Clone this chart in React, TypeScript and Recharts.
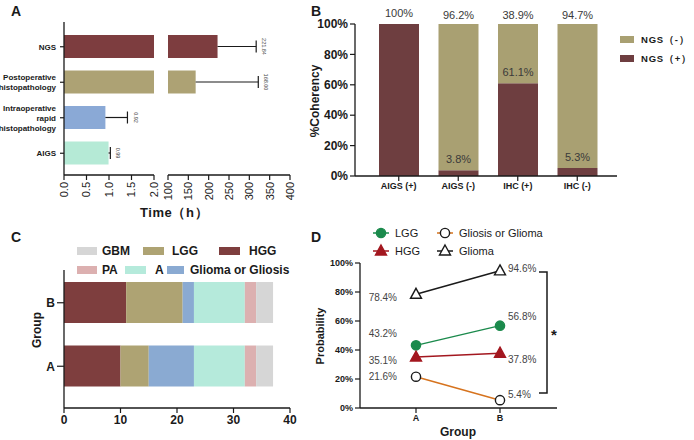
import {
  BarChart,
  Bar,
  LineChart,
  Line,
  XAxis,
  YAxis,
  Cell,
  LabelList,
  Legend,
} from 'recharts';

const FONT = '"Liberation Sans", Arial, Helvetica, sans-serif';
const INK = '#1a1a1a';

// ---- Panel A: turnaround time ----
const methods = ['NGS', 'Postoperative\nhistopathology', 'Intraoperative\nrapid\nhistopathology', 'AIGS'];
const timeMean = [221.84, 168.0, 0.92, 0.99];
const timeSd = [95, 154, 0.49, 0.04];
const methodColors = ['#7d3d3f', '#ada274', '#8aa9d6', '#b5ead6'];
const lowTicks = [0, 0.5, 1, 1.5, 2];
const highTicks = [100, 150, 200, 250, 300, 350, 400];
const LOW_MAX = 2;

// ---- Panel B: coherency ----
const cohCategories = ['AIGS (+)', 'AIGS (-)', 'IHC (+)', 'IHC (-)'];
const ngsPos = [100, 3.8, 61.1, 5.3];
const ngsNeg = [0, 96.2, 38.9, 94.7];
const pctTicks = [0, 20, 40, 60, 80, 100];

// ---- Panel C: group composition ----
const groupNames = ['B', 'A'];
const hggCount = [11, 10];
const lggCount = [10, 5];
const gliomaOrGliosisCount = [2, 8];
const aCount = [9, 9];
const paCount = [2, 2];
const gbmCount = [3, 3];
const countTicks = [0, 10, 20, 30, 40];

// ---- Panel D: probability ----
const probGroups = ['A', 'B'];
const probLGG = [43.2, 56.8];
const probHGG = [35.1, 37.8];
const probGliosis = [21.6, 5.4];
const probGlioma = [78.4, 94.6];

const timeLow = methods.map((name, i) => {
  const small = timeMean[i] < LOW_MAX;
  return {
    name,
    mean: timeMean[i],
    sd: small ? timeSd[i] : null,
    label: small ? timeMean[i].toFixed(2) : null,
  };
});
const timeHigh = methods.map((name, i) => {
  const big = timeMean[i] >= LOW_MAX;
  return {
    name,
    mean: big ? timeMean[i] : null,
    sd: big ? timeSd[i] : null,
    label: big ? timeMean[i].toFixed(2) : null,
  };
});

const cohData = cohCategories.map((name, i) => ({
  name,
  pos: ngsPos[i],
  neg: ngsNeg[i],
  posLabel: ngsPos[i] > 0 ? ngsPos[i] : null,
  negLabel: ngsNeg[i] > 0 ? ngsNeg[i] : null,
}));

const stackSeries = [
  { key: 'HGG', values: hggCount, color: '#7e3e3e' },
  { key: 'LGG', values: lggCount, color: '#aea373' },
  { key: 'Glioma or Gliosis', values: gliomaOrGliosisCount, color: '#8aaad2' },
  { key: 'A', values: aCount, color: '#b5eadb' },
  { key: 'PA', values: paCount, color: '#dcb0b0' },
  { key: 'GBM', values: gbmCount, color: '#d6d6d6' },
];
const groupData = groupNames.map((group, i) => {
  const row: Record<string, string | number> = { group };
  stackSeries.forEach((s) => (row[s.key] = s.values[i]));
  return row;
});

const probData = probGroups.map((group, i) => ({
  group,
  LGG: probLGG[i],
  HGG: probHGG[i],
  gliosis: probGliosis[i],
  glioma: probGlioma[i],
}));

// label offsets (dy) for panel D, per point
const probSeries = [
  { key: 'glioma', name: 'Glioma', color: INK, marker: 'tri', filled: false, dy: [3, -2] },
  { key: 'LGG', name: 'LGG', color: '#1b8a4c', marker: 'circle', filled: true, dy: [-12, -9] },
  { key: 'HGG', name: 'HGG', color: '#a3171f', marker: 'tri', filled: true, dy: [3, 6] },
  { key: 'gliosis', name: 'Gliosis or Glioma', color: '#d6731e', marker: 'circle', filled: false, dy: [0, -6] },
];

const vbOf = (p: any) => (p.viewBox && p.viewBox.x != null ? p.viewBox : p);

// ---------- ticks ----------
function MethodTick(props: any) {
  const { x, y, payload } = props;
  const lines = String(payload.value).split('\n');
  const lh = 10;
  const y0 = y - ((lines.length - 1) * lh) / 2;
  return (
    <text textAnchor="end" fontSize={8} fontWeight="bold" fill={INK}>
      {lines.map((l, i) => (
        <tspan key={i} x={x - 2} y={y0 + i * lh} dy="0.35em">
          {l}
        </tspan>
      ))}
    </text>
  );
}

function RotTick(props: any) {
  const { x, y, payload, digits } = props;
  const v = digits ? Number(payload.value).toFixed(digits) : String(payload.value);
  return (
    <text
      transform={`translate(${x},${y}) rotate(-90)`}
      textAnchor="end"
      dy="0.35em"
      fontSize={11}
      fill={INK}
    >
      {v}
    </text>
  );
}

// ---------- panel A error whisker drawn from the stacked sd segment ----------
function Whisker(props: any) {
  const { x, y, width, height, payload } = props;
  if (!payload || payload.sd == null || !isFinite(x) || !isFinite(width)) return null;
  const cy = y + height / 2;
  const x2 = x + width;
  return (
    <g>
      <line x1={x} y1={cy} x2={x2} y2={cy} stroke={INK} strokeWidth={1.2} />
      <line x1={x2} y1={cy - 6} x2={x2} y2={cy + 6} stroke={INK} strokeWidth={1.2} />
    </g>
  );
}

function ErrLabel(props: any) {
  const { value } = props;
  if (value == null) return null;
  const vb = vbOf(props);
  const lx = vb.x + vb.width + 8;
  const ly = vb.y + vb.height / 2;
  return (
    <text
      transform={`translate(${lx},${ly}) rotate(90)`}
      textAnchor="middle"
      dy="0.35em"
      fontSize={5.5}
      fill="#444"
    >
      {value}
    </text>
  );
}

// ---------- panel B value labels ----------
const pctLabel = (gap: number) => (props: any) => {
  const { value } = props;
  if (value == null) return null;
  const vb = vbOf(props);
  return (
    <text x={vb.x + vb.width / 2} y={vb.y - gap} textAnchor="middle" fontSize={11} fill="#3a3a3a">
      {`${value}%`}
    </text>
  );
};

// ---------- panel D ----------
function markerEl(kind: string, cx: number, cy: number, color: string, filled: boolean, key?: string) {
  const fill = filled ? color : '#fff';
  const stroke = filled ? color : INK;
  if (kind === 'tri') {
    return (
      <path
        key={key}
        d={`M${cx},${cy - 6} L${cx + 5.5},${cy + 4} L${cx - 5.5},${cy + 4} Z`}
        fill={fill}
        stroke={stroke}
        strokeWidth={1.4}
      />
    );
  }
  return <circle key={key} cx={cx} cy={cy} r={4.6} fill={fill} stroke={stroke} strokeWidth={1.4} />;
}

const probLabel = (dy: number[]) => (props: any) => {
  const { value, index } = props;
  const vb = vbOf(props);
  const left = index === 0;
  return (
    <text
      x={left ? vb.x - 19 : vb.x + 8}
      y={vb.y + dy[index]}
      dy="0.35em"
      textAnchor={left ? 'end' : 'start'}
      fontSize={10}
      fill="#444"
    >
      {`${value}%`}
    </text>
  );
};

// ---------- legends ----------
function CohLegend() {
  const items = [
    { name: 'NGS（-）', color: '#a9a072' },
    { name: 'NGS（+）', color: '#6e3e40' },
  ];
  return (
    <svg width={74} height={40}>
      {items.map((it, i) => (
        <g key={it.name} transform={`translate(0,${i * 19})`}>
          <rect x={0} y={3} width={14} height={7} fill={it.color} />
          <text x={21} y={6.5} dy="0.35em" fontSize={9.5} fontWeight="bold" letterSpacing={0.8} fill={INK}>
            {it.name}
          </text>
        </g>
      ))}
    </svg>
  );
}

const groupLegendPos: Record<string, [number, number, number, number]> = {
  GBM: [77, 26, 20, 102],
  LGG: [143, 26, 21, 172],
  HGG: [219, 26, 21, 249],
  PA: [77, 45, 20, 102],
  A: [125, 45, 21, 155],
  'Glioma or Gliosis': [167, 45, 17, 190],
};

function GroupLegend() {
  return (
    <svg width={310} height={60}>
      {stackSeries.map((s) => {
        const [sx, cy, sw, tx] = groupLegendPos[s.key];
        return (
          <g key={s.key}>
            <rect x={sx} y={cy - 4} width={sw} height={8} fill={s.color} />
            <text x={tx} y={cy} dy="0.35em" fontSize={12} fontWeight="bold" fill={INK}>
              {s.key}
            </text>
          </g>
        );
      })}
    </svg>
  );
}

const probLegendPos: Record<string, [number, number]> = {
  LGG: [73, 8],
  'Gliosis or Glioma': [137, 8],
  HGG: [73, 26],
  Glioma: [137, 26],
};

function ProbLegend() {
  return (
    <svg width={394} height={40}>
      {probSeries.map((s) => {
        const [lx, cy] = probLegendPos[s.name];
        return (
          <g key={s.key}>
            <line x1={lx} y1={cy} x2={lx + 16} y2={cy} stroke={s.color} strokeWidth={1.5} />
            {markerEl(s.marker, lx + 8, cy, s.color, s.filled)}
            <text x={lx + 22} y={cy} dy="0.35em" fontSize={11} fill={INK}>
              {s.name}
            </text>
          </g>
        );
      })}
    </svg>
  );
}

const axisLine = { stroke: INK, strokeWidth: 1.3 };
const tickLine = { stroke: INK, strokeWidth: 1.2 };

export default function App() {
  return (
    <div
      style={{
        position: 'absolute',
        left: 0,
        top: 0,
        width: 694,
        height: 440,
        background: '#fff',
        fontFamily: FONT,
        overflow: 'hidden',
      }}
    >
      {/* Panel A - low segment */}
      <div style={{ position: 'absolute', left: 0, top: 0 }}>
        <BarChart
          layout="vertical"
          width={160}
          height={225}
          data={timeLow}
          margin={{ top: 22, right: 6, bottom: 0, left: 0 }}
          barSize={23}
        >
          <XAxis
            type="number"
            domain={[0, LOW_MAX]}
            ticks={lowTicks}
            allowDataOverflow
            height={50}
            tickSize={5}
            axisLine={axisLine}
            tickLine={tickLine}
            tick={<RotTick digits={1} />}
            interval={0}
          />
          <YAxis
            type="category"
            dataKey="name"
            width={64}
            tickSize={4}
            padding={{ top: 7, bottom: 4 }}
            axisLine={axisLine}
            tickLine={tickLine}
            tick={<MethodTick />}
            interval={0}
          />
          <Bar dataKey="mean" stackId="t" isAnimationActive={false}>
            {timeLow.map((d, i) => (
              <Cell key={d.name} fill={methodColors[i]} />
            ))}
          </Bar>
          <Bar dataKey="sd" stackId="t" isAnimationActive={false} shape={<Whisker />}>
            <LabelList dataKey="label" content={ErrLabel} />
          </Bar>
        </BarChart>
      </div>

      {/* Panel A - high segment */}
      <div style={{ position: 'absolute', left: 160, top: 0 }}>
        <BarChart
          layout="vertical"
          width={140}
          height={225}
          data={timeHigh}
          margin={{ top: 22, right: 10, bottom: 0, left: 8 }}
          barSize={23}
        >
          <XAxis
            type="number"
            domain={[100, 400]}
            ticks={highTicks}
            allowDataOverflow
            height={50}
            tickSize={5}
            axisLine={axisLine}
            tickLine={tickLine}
            tick={<RotTick />}
            interval={0}
          />
          <YAxis type="category" dataKey="name" hide padding={{ top: 7, bottom: 4 }} />
          <Bar dataKey="mean" stackId="t" isAnimationActive={false}>
            {timeHigh.map((d, i) => (
              <Cell key={d.name} fill={methodColors[i]} />
            ))}
          </Bar>
          <Bar dataKey="sd" stackId="t" isAnimationActive={false} shape={<Whisker />}>
            <LabelList dataKey="label" content={ErrLabel} />
          </Bar>
        </BarChart>
      </div>

      {/* Panel B */}
      <div style={{ position: 'absolute', left: 300, top: 0 }}>
        <BarChart
          width={394}
          height={225}
          data={cohData}
          margin={{ top: 24, right: 77, bottom: 0, left: 0 }}
          barSize={40}
        >
          <XAxis
            dataKey="name"
            padding={{ left: 14, right: 10 }}
            height={49}
            tickSize={5}
            axisLine={axisLine}
            tickLine={tickLine}
            tick={{ fontSize: 9, fontWeight: 'bold', fill: INK }}
            interval={0}
          />
          <YAxis
            domain={[0, 100]}
            ticks={pctTicks}
            width={55}
            tickSize={5}
            axisLine={axisLine}
            tickLine={tickLine}
            tickFormatter={(v) => `${v}%`}
            tick={{ fontSize: 12, fontWeight: 'bold', fill: INK }}
          />
          <Legend
            layout="horizontal"
            verticalAlign="middle"
            align="center"
            wrapperStyle={{ left: 320, top: 33, width: 74, height: 40 }}
            content={() => <CohLegend />}
          />
          <Bar dataKey="pos" name="NGS（+）" stackId="c" fill="#6e3e40" isAnimationActive={false}>
            <LabelList dataKey="posLabel" content={pctLabel(7)} />
          </Bar>
          <Bar dataKey="neg" name="NGS（-）" stackId="c" fill="#a9a072" isAnimationActive={false}>
            <LabelList dataKey="negLabel" content={pctLabel(5)} />
          </Bar>
        </BarChart>
      </div>

      {/* Panel C */}
      <div style={{ position: 'absolute', left: 0, top: 225 }}>
        <BarChart
          layout="vertical"
          width={310}
          height={215}
          data={groupData}
          margin={{ top: 45, right: 20, bottom: 0, left: 0 }}
          barSize={41}
        >
          <XAxis
            type="number"
            domain={[0, 40]}
            ticks={countTicks}
            height={32}
            tickSize={5}
            axisLine={axisLine}
            tickLine={tickLine}
            tick={{ fontSize: 12, fontWeight: 'bold', fill: INK }}
          />
          <YAxis
            type="category"
            dataKey="group"
            width={64}
            tickSize={7}
            padding={{ top: 1, bottom: 10 }}
            axisLine={axisLine}
            tickLine={tickLine}
            tick={{ fontSize: 12, fontWeight: 'bold', fill: INK }}
          />
          <Legend
            layout="horizontal"
            verticalAlign="middle"
            align="center"
            wrapperStyle={{ left: 0, top: 0, width: 310, height: 60 }}
            content={() => <GroupLegend />}
          />
          {stackSeries.map((s) => (
            <Bar key={s.key} dataKey={s.key} stackId="g" fill={s.color} isAnimationActive={false} />
          ))}
        </BarChart>
      </div>

      {/* Panel D */}
      <div style={{ position: 'absolute', left: 300, top: 225 }}>
        <LineChart
          width={394}
          height={215}
          data={probData}
          margin={{ top: 38, right: 137, bottom: 0, left: 0 }}
        >
          <XAxis
            dataKey="group"
            padding={{ left: 56, right: 57 }}
            height={32}
            tickSize={5}
            axisLine={axisLine}
            tickLine={tickLine}
            tick={{ fontSize: 9, fontWeight: 'bold', fill: INK }}
          />
          <YAxis
            domain={[0, 100]}
            ticks={pctTicks}
            width={60}
            tickSize={5}
            axisLine={axisLine}
            tickLine={tickLine}
            tickFormatter={(v) => `${v}%`}
            tick={{ fontSize: 9, fontWeight: 'bold', fill: INK }}
          />
          <Legend
            layout="horizontal"
            verticalAlign="middle"
            align="center"
            wrapperStyle={{ left: 0, top: 0, width: 394, height: 40 }}
            content={() => <ProbLegend />}
          />
          {probSeries.map((s) => (
            <Line
              key={s.key}
              dataKey={s.key}
              name={s.name}
              stroke={s.color}
              strokeWidth={1.5}
              isAnimationActive={false}
              dot={(p: any) => markerEl(s.marker, p.cx, p.cy, s.color, s.filled, `${s.key}-${p.index}`)}
              activeDot={false}
            >
              <LabelList dataKey={s.key} content={probLabel(s.dy)} />
            </Line>
          ))}
        </LineChart>
      </div>

      {/* panel letters, axis titles, significance bracket */}
      <svg width={694} height={440} style={{ position: 'absolute', left: 0, top: 0, pointerEvents: 'none' }}>
        <g fontWeight="bold" fontSize={14} fill={INK}>
          <text x={11} y={16}>A</text>
          <text x={311} y={16}>B</text>
          <text x={11} y={242}>C</text>
          <text x={311} y={242}>D</text>
        </g>
        <text x={174} y={212} dy="0.35em" textAnchor="middle" fontSize={13} fontWeight="bold" letterSpacing={0.6} fill={INK}>
          Time（h）
        </text>
        <text transform="translate(315,101) rotate(-90)" dy="0.35em" textAnchor="middle" fontSize={12} fontWeight="bold" fill={INK}>
          %Coherency
        </text>
        <text transform="translate(37,330) rotate(-90)" dy="0.35em" textAnchor="middle" fontSize={12} fontWeight="bold" fill={INK}>
          Group
        </text>
        <text transform="translate(320,336) rotate(-90)" dy="0.35em" textAnchor="middle" fontSize={11} fontWeight="bold" fill={INK}>
          Probability
        </text>
        <text x={458} y={432} dy="0.35em" textAnchor="middle" fontSize={12} fontWeight="bold" fill={INK}>
          Group
        </text>
        <path d="M539,272 H547 V393 H539" fill="none" stroke={INK} strokeWidth={1.5} />
        <text x={554} y={340} textAnchor="middle" fontSize={15} fontWeight="bold" fill={INK}>
          *
        </text>
      </svg>
    </div>
  );
}
